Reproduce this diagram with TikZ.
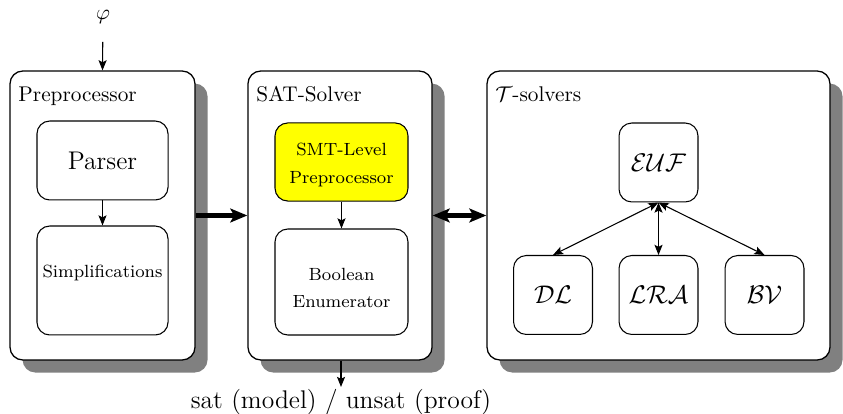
\documentclass[tikz,border=0pt]{standalone}
\usepackage{fontspec}
\usetikzlibrary{arrows.meta,shadows}
\begin{document}
\begin{tikzpicture}[x=0.47pt,y=-0.47pt,
  outerbox/.style={draw,line width=0.6pt,rounded corners=6pt,fill=white,
    minimum height=135.8pt,inner sep=0pt,
    general shadow={fill=black!50,shadow xshift=5.9pt,shadow yshift=-5.9pt}},
  innerbox/.style={draw,line width=0.5pt,rounded corners=6pt,fill=white,inner sep=1pt,align=center},
  midfont/.style={font=\fontsize{8.3}{12.7}\selectfont},
  smallbox/.style={innerbox,minimum width=37.1pt,minimum height=37.1pt,font=\large},
  boxlabel/.style={anchor=base west,inner sep=0pt},
  thin arrow/.style={line width=0.5pt,-{Stealth[length=4.8pt,width=3.8pt,inset=1pt]}},
  thin dblarrow/.style={line width=0.5pt,{Stealth[length=4.8pt,width=3.8pt,inset=1pt]}-{Stealth[length=4.8pt,width=3.8pt,inset=1pt]}},
  thick arrow/.style={line width=2.4pt,-{Stealth[length=8pt,width=6.5pt,inset=1.8pt]}},
  thick dblarrow/.style={line width=2.4pt,{Stealth[length=8pt,width=6.5pt,inset=1.8pt]}-{Stealth[length=8pt,width=6.5pt,inset=1.8pt]}}]
\useasboundingbox (0,0) rectangle (843,414);

% outer boxes
\node[outerbox,minimum width=86.95pt] (pre) at (102.5,215.5) {};
\node[outerbox,minimum width=86.5pt] (sat) at (340,215.5) {};
\node[outerbox,minimum width=161.2pt] (ts) at (658.5,215.5) {};

\node[boxlabel] (prel) at (18,102) {Preprocessor};
\node[boxlabel] (satl) at (256,102) {SAT-Solver};
\node[boxlabel] (tsl) at (495,102) {$\mathcal{T}$-solvers};

% inner nodes
\node[innerbox,minimum width=61.6pt,minimum height=37.1pt,font=\large] (parser) at (102.5,160.5) {Parser};
\node[innerbox,minimum width=61.6pt,minimum height=51.2pt] (simp) at (102.5,280.5) {};
\node[midfont,inner sep=0pt] (simpt) at (102.5,273) {Simplifications};
\node[innerbox,minimum width=62.5pt,minimum height=36.7pt,midfont,fill={rgb,255:red,255;green,255;blue,0}] (smt) at (341.5,162) {};
\node[midfont,align=center,inner sep=0pt] (smtt) at (341.5,165) {SMT-Level\\Preprocessor};
\node[innerbox,minimum width=62.5pt,minimum height=49.8pt] (bool) at (341.5,282) {};
\node[midfont,align=center,inner sep=0pt] (boolt) at (341.5,288) {Boolean\\Enumerator};

\node[smallbox] (euf) at (658.5,162.5) {$\mathcal{EUF}$};
\node[smallbox] (dl) at (553,295) {$\mathcal{DL}$};
\node[smallbox] (lra) at (658.5,295) {$\mathcal{LRA}$};
\node[smallbox] (bv) at (764.5,295) {$\mathcal{BV}$};

% input / output
\node (phi) at (103,17) {$\varphi$};
\coordinate (outend) at (341,387);
\node[font=\large,inner sep=0pt,anchor=base] (res) at (341,409) {sat (model) / unsat (proof)};

% connectors
\draw[thin arrow,shorten <=5pt] (phi) -- (pre.north);
\draw[thin arrow] (parser) -- (simp);
\draw[thin arrow] (smt) -- (bool);
\draw[thin arrow] (sat.south -| outend) -- (outend);
\draw[thin dblarrow] (euf.south) -- (dl.north);
\draw[thin dblarrow] (euf.south) -- (lra.north);
\draw[thin dblarrow] (euf.south) -- (bv.north);
\draw[thick arrow] (pre.east) -- (sat.west);
\draw[thick dblarrow] (sat.east) -- (ts.west);
\end{tikzpicture}
\end{document}
